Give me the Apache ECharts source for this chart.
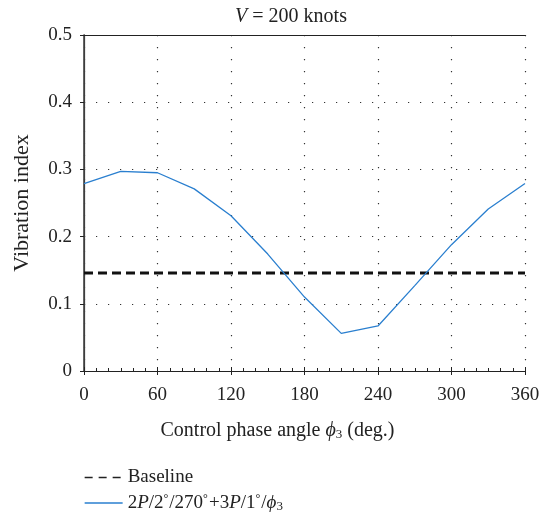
<!DOCTYPE html>
<html>
<head>
<meta charset="utf-8">
<script src="https://cdn.jsdelivr.net/npm/echarts@6/dist/echarts.min.js"></script>
<style>html,body{margin:0;padding:0;background:#fff}#c{width:549px;height:518px}</style>
</head>
<body>
<div id="c"></div>
<script>
const phaseAngles = [0, 30, 60, 90, 120, 150, 180, 210, 240, 270, 300, 330, 360];
const vibrationIndex = [0.279, 0.297, 0.295, 0.271, 0.231, 0.174, 0.110, 0.056, 0.067, 0.127, 0.188, 0.241, 0.279];
const baselineX = [0, 360];
const baselineValue = [0.146, 0.146];
const xTicks = [0, 60, 120, 180, 240, 300, 360];
const yTicks = [0, 0.1, 0.2, 0.3, 0.4, 0.5];

const FONT = '"Liberation Serif", "DejaVu Serif", serif';
const chart = echarts.init(document.getElementById('c'), null, {renderer: 'canvas'});
const axisCol = '#222';
const dotted = {color: '#333', width: 1.2, type: [1.2, 10.8]};
const FS = 19;
const LFS = 19;

const option = {
  backgroundColor: '#fff',
  animation: false,
  textStyle: {fontFamily: FONT, color: '#222'},
  title: {
    text: '{i|V} = 200 knots',
    left: 286, top: 2, textAlign: 'center',
    textStyle: {fontFamily: FONT, fontSize: 20, fontWeight: 'normal', color: '#222',
      rich: {i: {fontFamily: FONT, fontSize: 20, fontStyle: 'italic', color: '#222'}}}
  },
  grid: {left: 84, right: 24, top: 35, bottom: 147},
  xAxis: [
    {
      type: 'value', min: xTicks[0], max: xTicks[xTicks.length - 1], interval: 60,
      name: 'Control phase angle {i|ϕ}{sub|3} (deg.)', nameLocation: 'middle', nameGap: 49,
      nameTextStyle: {fontFamily: FONT, fontSize: 20, color: '#222', padding: [0, 54, 0, 0],
        rich: {i: {fontFamily: FONT, fontSize: 20, fontStyle: 'italic', color: '#222'},
               sub: {fontFamily: FONT, fontSize: 13, color: '#222', verticalAlign: 'bottom', padding: [8, 0, 0, 0]}}},
      axisLine: {show: true, lineStyle: {color: axisCol, width: 1.2}},
      axisTick: {show: true, inside: false, length: 4, lineStyle: {color: axisCol}},
      axisLabel: {fontFamily: FONT, fontSize: FS, color: '#222', margin: 15},
      splitLine: {show: true, lineStyle: dotted}
    },
    {
      type: 'value', min: 0, max: 360, interval: 60, position: 'bottom',
      axisLine: {show: false},
      axisTick: {show: true, inside: true, length: 4, lineStyle: {color: axisCol}},
      minorTick: {show: true, splitNumber: 6, length: 3, lineStyle: {color: axisCol}},
      axisLabel: {show: false}, splitLine: {show: false}
    },
    {
      type: 'value', min: 0, max: 360, position: 'top',
      axisLine: {show: true, lineStyle: {color: axisCol, width: 1.2}},
      axisTick: {show: false}, axisLabel: {show: false}, splitLine: {show: false}
    }
  ],
  yAxis: [
    {
      type: 'value', min: yTicks[0], max: yTicks[yTicks.length - 1], interval: 0.1,
      name: 'Vibration index', nameLocation: 'middle', nameGap: 51,
      nameTextStyle: {fontFamily: FONT, fontSize: 22, color: '#222'},
      axisLine: {show: true, lineStyle: {color: axisCol, width: 1.2}},
      axisTick: {show: true, inside: false, length: 4, lineStyle: {color: axisCol}},
      axisLabel: {fontFamily: FONT, fontSize: FS, color: '#222', margin: 12,
        formatter: v => (v === 0 ? '0' : v.toFixed(1))},
      splitLine: {show: true, lineStyle: dotted}
    },
    {
      type: 'value', min: 0, max: 0.5, position: 'right',
      axisLine: {show: true, lineStyle: {color: '#444', width: 1.6}},
      axisTick: {show: false}, axisLabel: {show: false}, splitLine: {show: false}
    }
  ],
  legend: {
    orient: 'vertical', left: 79, top: 463, height: 90, itemWidth: 38, itemHeight: 14, itemGap: 6,
    textStyle: {fontFamily: FONT, fontSize: LFS, color: '#222',
      rich: {i: {fontFamily: FONT, fontSize: LFS, fontStyle: 'italic', color: '#222'},
             sup: {fontFamily: FONT, fontSize: 12, color: '#222', verticalAlign: 'top', padding: [0, 1, 6, 0]},
             sub: {fontFamily: FONT, fontSize: 13, color: '#222', verticalAlign: 'bottom', padding: [7, 0, 0, 0]}}},
    data: [
      {name: 'Baseline', itemStyle: {opacity: 0}, lineStyle: {width: 1.3, type: [8, 6], color: '#222'}},
      {name: 'Control', itemStyle: {opacity: 0}, lineStyle: {width: 1.3, color: '#2a7fcf'}}
    ],
    formatter: function (name) {
      if (name === 'Baseline') return 'Baseline';
      return '2{i|P}/2{sup|°}/270{sup|°}+3{i|P}/1{sup|°}/{i|ϕ}{sub|3}';
    }
  },
  series: [
    {
      name: 'Baseline', type: 'line', xAxisIndex: 0, yAxisIndex: 0,
      data: baselineX.map((x, i) => [x, baselineValue[i]]),
      symbol: 'none', silent: true, itemStyle: {color: '#111'},
      lineStyle: {color: '#111', width: 3, type: [9, 5]}, z: 3
    },
    {
      name: 'Control', type: 'line', xAxisIndex: 0, yAxisIndex: 0,
      data: phaseAngles.map((x, i) => [x, vibrationIndex[i]]),
      symbol: 'none', silent: true, itemStyle: {color: '#2a7fcf'},
      lineStyle: {color: '#2a7fcf', width: 1.3}, z: 4
    }
  ]
};
chart.setOption(option);
</script>
</body>
</html>
